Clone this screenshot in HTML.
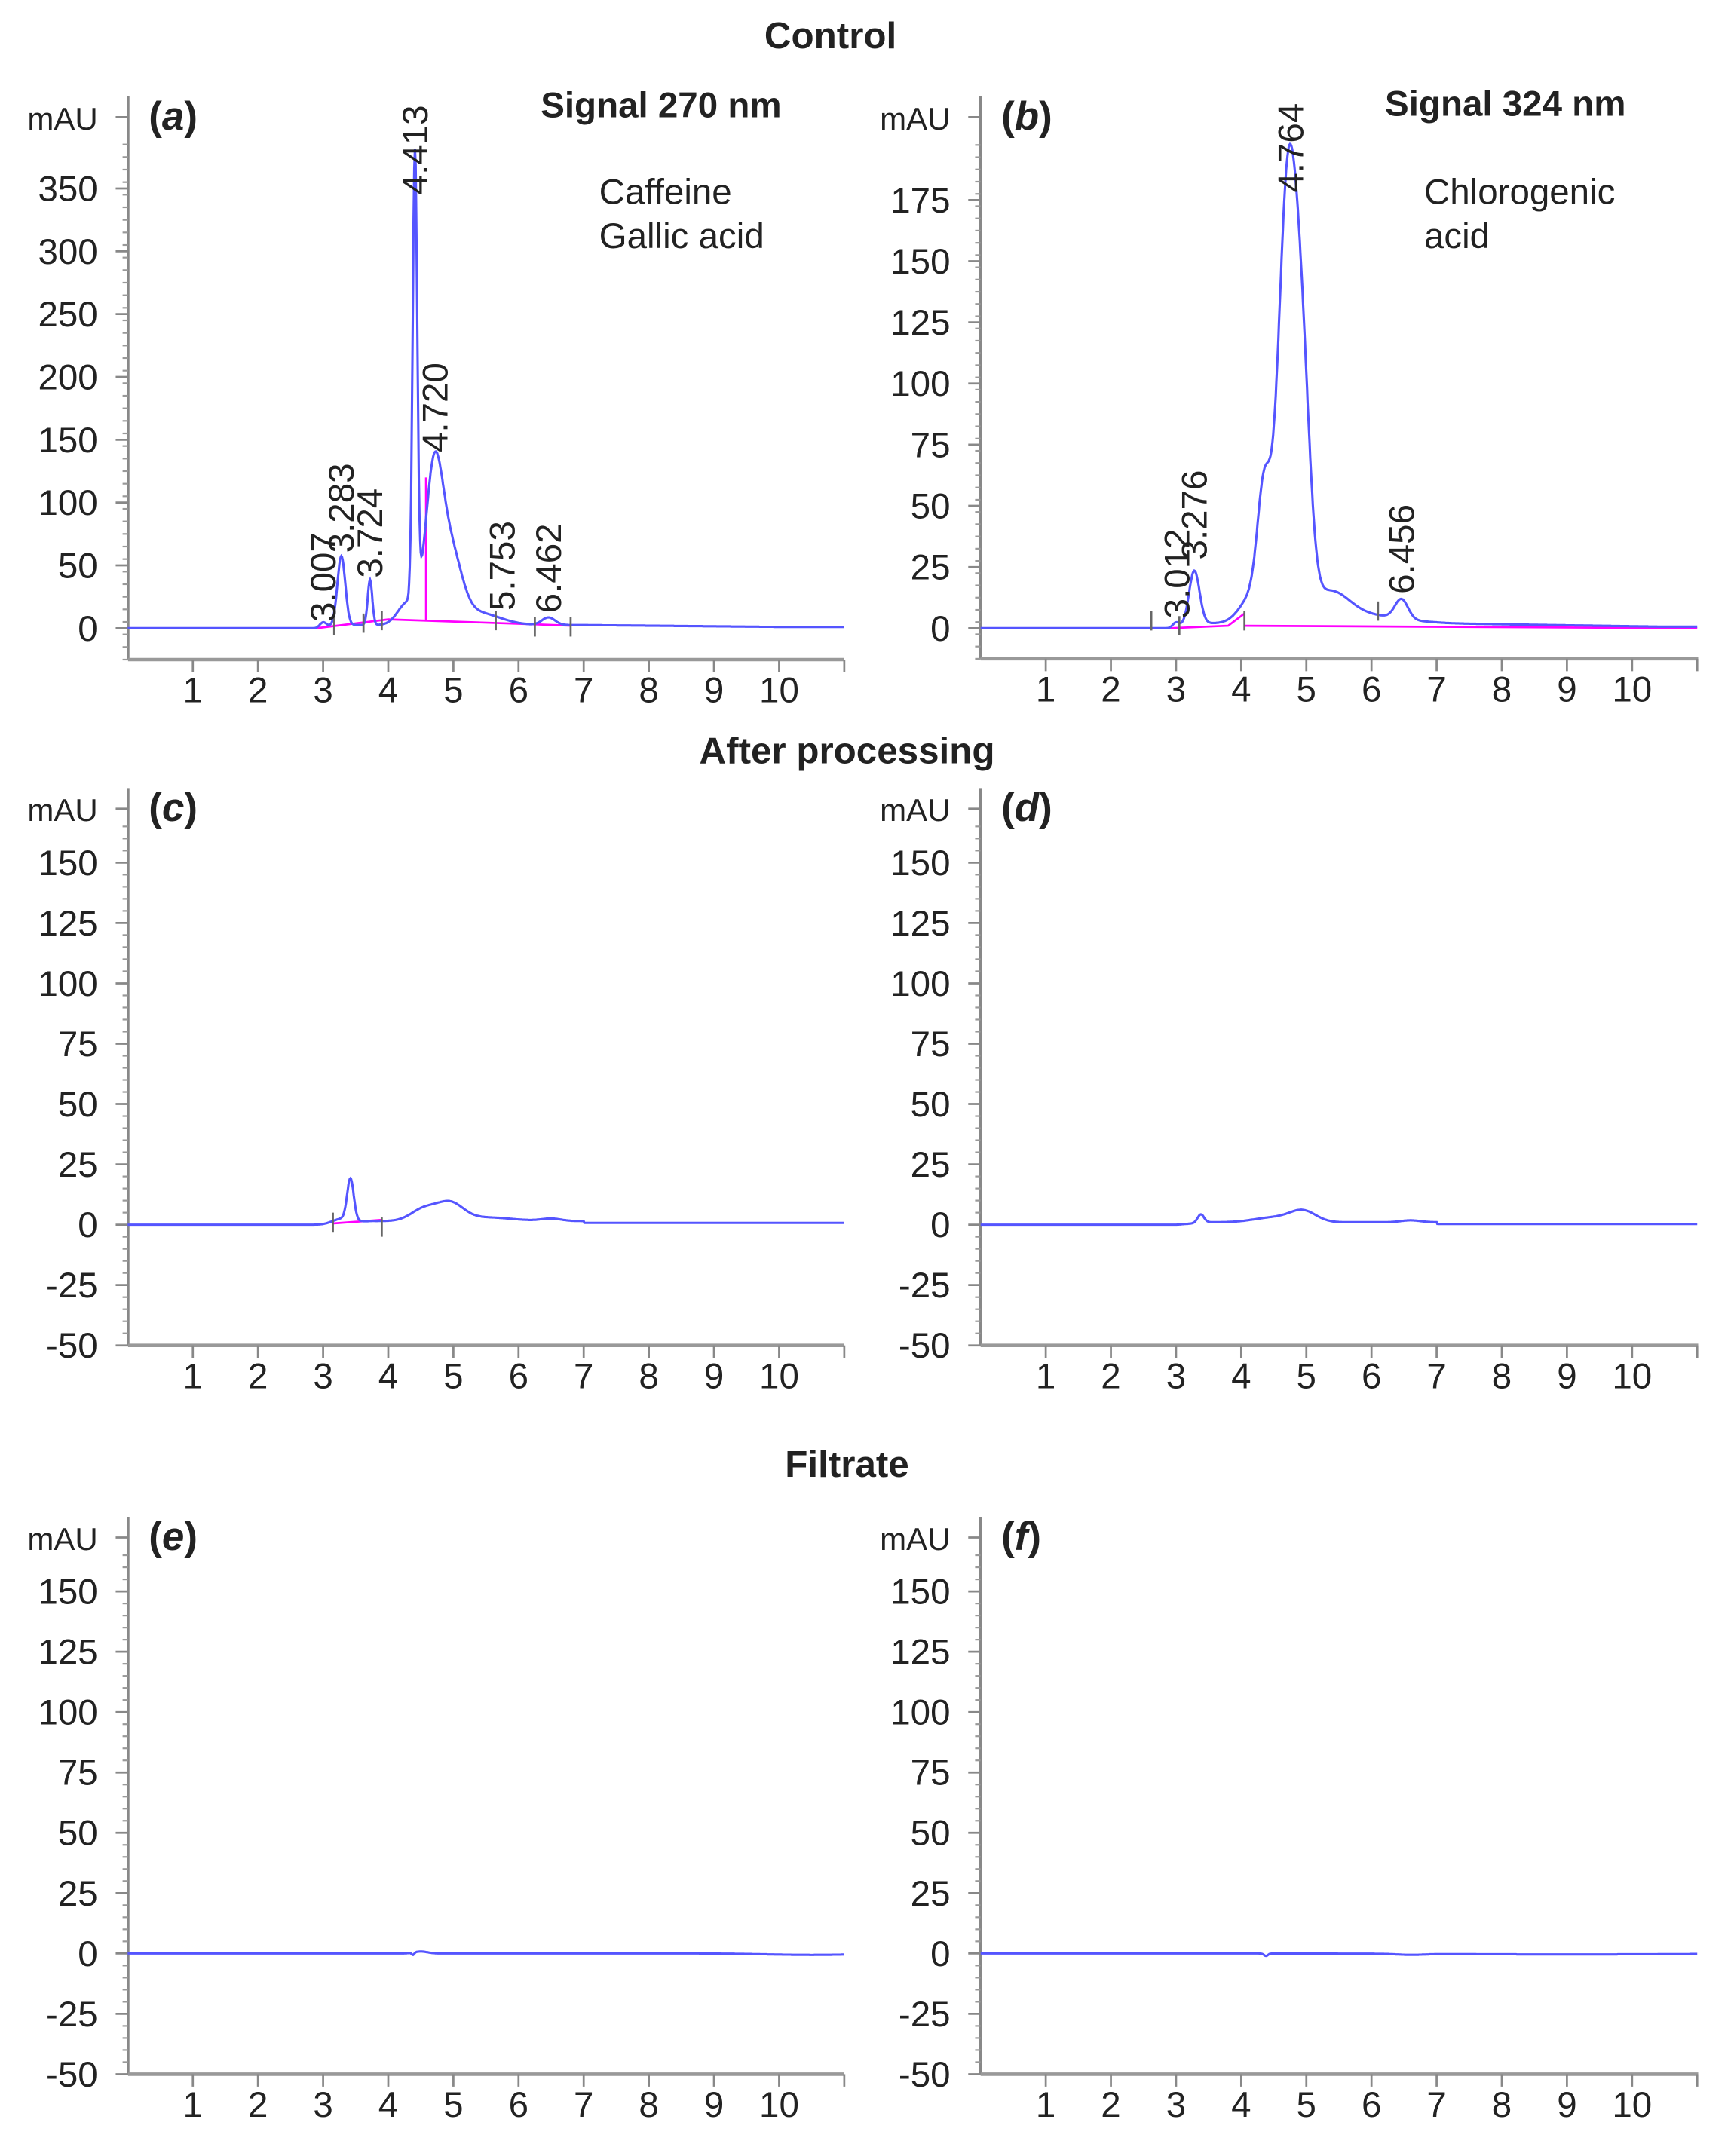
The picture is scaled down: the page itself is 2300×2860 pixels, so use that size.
<!DOCTYPE html>
<html><head><meta charset="utf-8"><style>
html,body{margin:0;padding:0;background:#fff}
svg{display:block}
text{font-family:"Liberation Sans",sans-serif;fill:#222}
</style></head><body>
<svg id="s" width="2300" height="2860" viewBox="0 0 1259 1565" preserveAspectRatio="none" xmlns="http://www.w3.org/2000/svg">
<text x="603" y="35" font-size="27" font-weight="bold" text-anchor="middle">Control</text>
<text x="615" y="554" font-size="27" font-weight="bold" text-anchor="middle">After processing</text>
<text x="615" y="1072" font-size="27" font-weight="bold" text-anchor="middle">Filtrate</text>
<text x="480" y="85" font-size="26" font-weight="bold" text-anchor="middle">Signal 270 nm</text>
<text x="1093" y="84" font-size="26" font-weight="bold" text-anchor="middle">Signal 324 nm</text>
<text x="435" y="148" font-size="26">Caffeine</text>
<text x="435" y="180" font-size="26">Gallic acid</text>
<text x="1034" y="148" font-size="26">Chlorogenic</text>
<text x="1034" y="180" font-size="26">acid</text>
</svg>
<script>
const S=document.getElementById('s');const NS='http://www.w3.org/2000/svg';
function el(t,a,txt){const e=document.createElementNS(NS,t);for(const k in a)e.setAttribute(k,a[k]);if(txt!==undefined)e.textContent=txt;S.appendChild(e);return e;}
function panel(o){
 const {ax,x0,xr,y0,ppu,ymin,ymax,major,minor,top,label,labs}=o;
 const xs=47.3;const X=t=>x0+t*xs;const Y=v=>y0-v*ppu;
 const bot=Y(ymin);
 el('line',{x1:ax,y1:top,x2:ax,y2:bot,stroke:'#888','stroke-width':2});
 el('line',{x1:ax,y1:bot,x2:xr,y2:bot,stroke:'#999','stroke-width':2.5});
 for(let v=ymin;v<=ymax+0.01;v+=minor){if(Y(v)<top)continue;el('line',{x1:ax-4,y1:Y(v),x2:ax,y2:Y(v),stroke:'#999','stroke-width':1.2});}
 for(let v=Math.ceil(ymin/major)*major;v<=ymax+0.01;v+=major){if(Y(v)<top+40)continue;el('line',{x1:ax-9,y1:Y(v),x2:ax,y2:Y(v),stroke:'#888','stroke-width':1.5});
  el('text',{x:ax-22,y:Y(v)+9,'font-size':26,'text-anchor':'end'},String(v));}
 el('text',{x:ax-22,y:top+24,'font-size':23,'text-anchor':'end'},'mAU');
 el('line',{x1:ax-9,y1:top+15,x2:ax,y2:top+15,stroke:'#888','stroke-width':1.5});
 for(let t=1;t<=11;t++){el('line',{x1:X(t),y1:bot,x2:X(t),y2:bot+9,stroke:'#888','stroke-width':1.5});
  if(t<=10)el('text',{x:X(t),y:bot+31,'font-size':26,'text-anchor':'middle'},String(t));}
 const g=el('text',{x:ax+15,y:top+24,'font-size':29,'font-weight':'bold'},'(');
 const it=document.createElementNS(NS,'tspan');it.setAttribute('font-style','italic');it.textContent=label;g.appendChild(it);
 const t2=document.createElementNS(NS,'tspan');t2.textContent=')';g.appendChild(t2);
 if(o.peaks){let d='';for(let t=0;t<=11;t+=0.01){let v=o.base?o.base(t):0;for(const p of o.peaks)v+=p[1]*Math.exp(-0.5*((t-p[0])/p[2])**2);
   d+=(t===0?'M':'L')+X(t).toFixed(1)+','+Y(v).toFixed(1);}
  if(o.pink)o.pink.forEach(p=>el('polyline',{points:p.map(q=>X(q[0])+','+Y(q[1])).join(' '),fill:'none',stroke:'#f0f','stroke-width':1.5}));
  el('path',{d,fill:'none',stroke:'#55f','stroke-width':1.7});
  if(o.marks)o.marks.forEach(m=>el('line',{x1:X(m[0]),y1:Y(m[1])-7,x2:X(m[0]),y2:Y(m[1])+7,stroke:'#666','stroke-width':1.5}));
 }
 if(labs)labs.forEach(l=>el('text',{transform:`translate(${X(l[0])+9},${Y(l[1])}) rotate(-90)`,'font-size':26},l[2]));
}
// a
panel({ax:93,x0:92.7,xr:613,y0:456,ppu:45.6/50,ymin:-25,ymax:385,major:50,minor:10,top:70,label:'a',
 base:t=>t>2.9?2.5*Math.min(1,(t-2.9)*3)*(t<7?1:Math.max(0.4,1-(t-7)*0.2)):0,
 peaks:[[3.0,4,0.05],[3.28,55,0.06],[3.72,36,0.035],[4.41,355,0.035],[4.3,18,0.15],[4.7,115,0.13],[4.95,55,0.17],[5.35,10,0.35],[6.46,6,0.1]],
 pink:[[[2.9,0],[4.0,7],[6.3,3],[6.8,2]],[[4.58,6],[4.58,120]]],
 marks:[[3.17,2],[3.62,4],[3.9,6],[5.65,6],[6.25,1],[6.8,1]],
 labs:[[3.0,5,'3.007'],[3.28,60,'3.283'],[3.72,40,'3.724'],[4.41,345,'4.413'],[4.72,140,'4.720'],[5.75,14,'5.753'],[6.46,12,'6.462']]});
// b
panel({ax:712,x0:712,xr:1233,y0:456,ppu:44.4/25,ymin:-12.5,ymax:200,major:25,minor:5,top:70,label:'b',
 base:t=>t>2.9?Math.min(2,(t-2.9)*4)*(t<7?1:Math.max(0.3,1-(t-7)*0.2)):0,
 peaks:[[3.0,2,0.05],[3.28,22,0.08],[4.35,45,0.1],[4.2,12,0.2],[4.72,180,0.15],[4.95,70,0.12],[5.35,12,0.3],[6.0,3,0.5],[6.46,8,0.1]],
 pink:[[[2.9,0],[3.8,1],[4.05,6]],[[4.05,1],[11,0]]],
 marks:[[2.62,3],[3.05,1],[4.05,3],[6.1,7]],
 labs:[[3.01,4,'3.012'],[3.28,28,'3.276'],[4.76,178,'4.764'],[6.46,14,'6.456']]});
// c
panel({ax:93,x0:92.7,xr:613,y0:889,ppu:43.8/25,ymin:-50,ymax:165,major:25,minor:5,top:572,label:'c',
 base:t=>t>3?Math.min(1.5,(t-3)*2)*(t<7?1:0.5):0,
 peaks:[[3.42,17,0.05],[3.3,2,0.15],[4.55,5,0.2],[4.95,7,0.2],[5.5,1.5,0.4],[6.5,1,0.15]],
 pink:[[[3.15,0.5],[3.9,2]]],marks:[[3.15,1],[3.9,-1]]});
// d
panel({ax:712,x0:712,xr:1233,y0:889,ppu:43.8/25,ymin:-50,ymax:165,major:25,minor:5,top:572,label:'d',
 base:t=>t>3?Math.min(1,(t-3)*2)*(t<7?1:0.3):0,
 peaks:[[3.38,3.5,0.05],[4.5,2,0.3],[4.95,4.5,0.2],[6.6,0.8,0.15]]});
// e
panel({ax:93,x0:92.7,xr:613,y0:1418,ppu:43.8/25,ymin:-50,ymax:165,major:25,minor:5,top:1101,label:'e',
 peaks:[[4.5,0.8,0.1],[4.38,-1,0.02],[10.5,-0.6,0.7]]});
// f
panel({ax:712,x0:712,xr:1233,y0:1418,ppu:43.8/25,ymin:-50,ymax:165,major:25,minor:5,top:1101,label:'f',
 peaks:[[4.38,-1,0.03],[6.6,-0.4,0.2],[9,-0.4,2]]});
</script>
</body></html>
